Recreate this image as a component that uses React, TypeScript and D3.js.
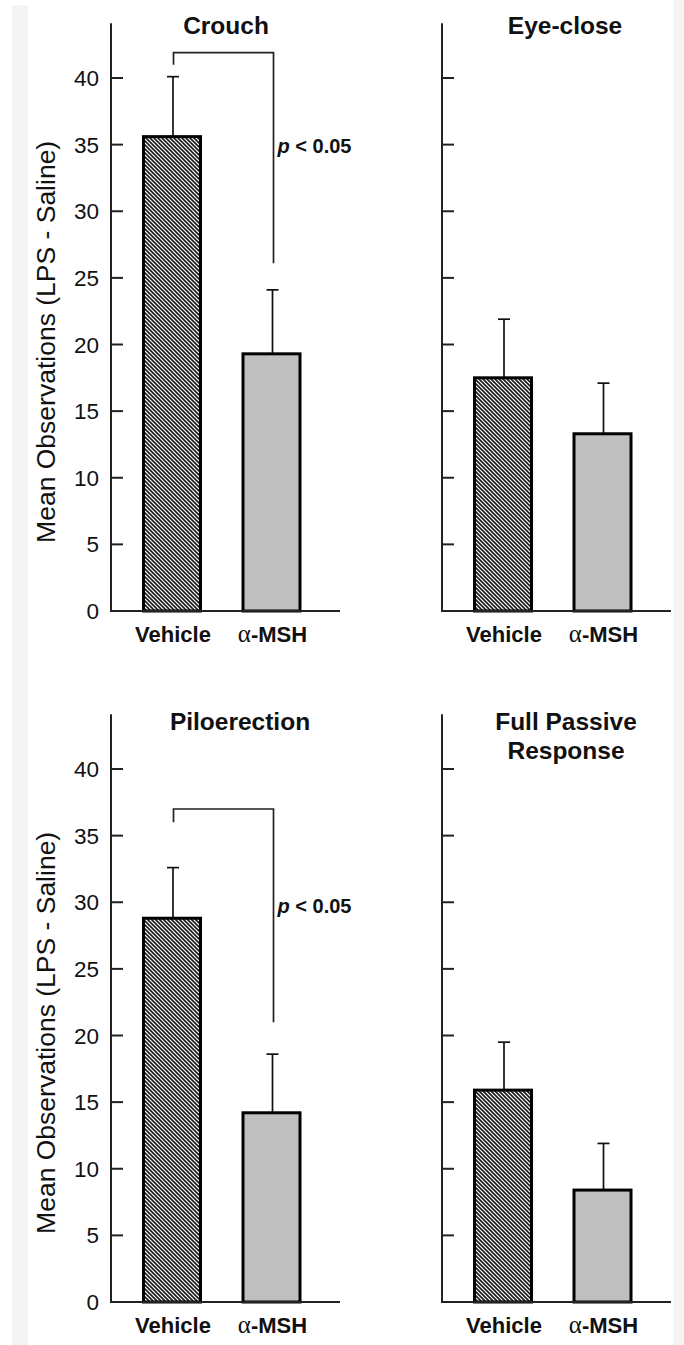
import React, { useEffect, useRef } from "react";
import * as d3 from "d3";

// values
const panelTitles = [["Crouch"], ["Eye-close"], ["Piloerection"], ["Full Passive", "Response"]];
const groups = ["Vehicle", "α-MSH"];
const vehicleMeans = [35.6, 17.5, 28.8, 15.9];
const vehicleSem = [4.5, 4.4, 3.8, 3.6];
const msshMeans = [19.3, 13.3, 14.2, 8.4];
const msshSem = [4.8, 3.8, 4.4, 3.5];
const yTicks = [0, 5, 10, 15, 20, 25, 30, 35, 40];
// significance brackets: [panel, top, left leg end, right leg end, label level]
const sigBrackets = [
  [0, 41.9, 41.0, 26.1, 34.4],
  [2, 37.0, 36.0, 21.0, 29.2],
];
const sigLabel = "< 0.05";

const W = 684;
const H = 1345;
const font = "'Liberation Sans', Arial, Helvetica, sans-serif";

// layout of the four panels
const layout = [
  { x0: 111, base: 611, top40: 78, titleDx: 115, titleY: 34, labels: true },
  { x0: 442, base: 611, top40: 78, titleDx: 123, titleY: 34, labels: false },
  { x0: 111, base: 1302, top40: 769, titleDx: 129, titleY: 730, labels: true },
  { x0: 442, base: 1302, top40: 769, titleDx: 124, titleY: 730, labels: false },
];

const App = () => {
  const svgRef = useRef(null);

  useEffect(() => {
    const svg = d3.select(svgRef.current);
    svg.selectAll("*").remove();

    const defs = svg.append("defs");
    const hatch = defs
      .append("pattern")
      .attr("id", "hatch")
      .attr("patternUnits", "userSpaceOnUse")
      .attr("width", 4)
      .attr("height", 4);
    hatch.append("rect").attr("width", 4).attr("height", 4).attr("fill", "#fff");
    hatch
      .append("path")
      .attr("d", "M-1,-1L5,5M-1,3L1,5M3,-1L5,1")
      .attr("stroke", "#1a1a1a")
      .attr("stroke-width", 1.6);

    // faint grey strips at the page edges
    svg.append("rect").attr("x", 12).attr("y", 5).attr("width", 16).attr("height", H).attr("fill", "#f4f4f4");
    svg.append("rect").attr("x", 673).attr("y", 0).attr("width", 11).attr("height", H).attr("fill", "#f4f4f4");

    layout.forEach((p, i) => {
      const y = d3.scaleLinear().domain([0, 40]).range([p.base, p.top40]);
      const x = d3.scalePoint().domain(groups).range([p.x0 + 61, p.x0 + 160.5]);
      const barW = 57;
      const g = svg.append("g");

      const bars = [
        { key: groups[0], mean: vehicleMeans[i], sem: vehicleSem[i], fill: "url(#hatch)" },
        { key: groups[1], mean: msshMeans[i], sem: msshSem[i], fill: "#bfbfbf" },
      ];

      // error bars (upper only)
      bars.forEach((b) => {
        const cx = x(b.key) + 1;
        g.append("line")
          .attr("x1", cx).attr("x2", cx)
          .attr("y1", y(b.mean)).attr("y2", y(b.mean + b.sem))
          .attr("stroke", "#111").attr("stroke-width", 1.7);
        g.append("line")
          .attr("x1", cx - 6).attr("x2", cx + 6)
          .attr("y1", y(b.mean + b.sem)).attr("y2", y(b.mean + b.sem))
          .attr("stroke", "#111").attr("stroke-width", 1.7);
      });

      g.selectAll("rect.bar")
        .data(bars)
        .enter()
        .append("rect")
        .attr("class", "bar")
        .attr("x", (d) => x(d.key) - barW / 2)
        .attr("y", (d) => y(d.mean))
        .attr("width", barW)
        .attr("height", (d) => y(0) - y(d.mean))
        .attr("fill", (d) => d.fill)
        .attr("stroke", "#000")
        .attr("stroke-width", 3);

      // y axis line + ticks pointing inward
      g.append("line")
        .attr("x1", p.x0).attr("x2", p.x0)
        .attr("y1", y(44.1)).attr("y2", y(0))
        .attr("stroke", "#222").attr("stroke-width", 2);
      g.selectAll("line.tick")
        .data(yTicks.filter((t) => t > 0))
        .enter()
        .append("line")
        .attr("class", "tick")
        .attr("x1", p.x0).attr("x2", p.x0 + 12)
        .attr("y1", (d) => y(d)).attr("y2", (d) => y(d))
        .attr("stroke", "#222").attr("stroke-width", 2);

      // x baseline
      g.append("line")
        .attr("x1", p.x0 - 1).attr("x2", p.x0 + 229)
        .attr("y1", y(0)).attr("y2", y(0))
        .attr("stroke", "#222").attr("stroke-width", 2);

      if (p.labels) {
        g.selectAll("text.tl")
          .data(yTicks)
          .enter()
          .append("text")
          .attr("class", "tl")
          .attr("x", p.x0 - 12)
          .attr("y", (d) => y(d))
          .attr("dy", "0.36em")
          .attr("text-anchor", "end")
          .attr("font-family", font)
          .attr("font-size", 22.5)
          .attr("fill", "#111")
          .text((d) => d);

        g.append("text")
          .attr("transform", `translate(55,${(y(0) + y(44)) / 2 + 24}) rotate(-90)`)
          .attr("text-anchor", "middle")
          .attr("font-family", font)
          .attr("font-size", 26.5)
          .attr("fill", "#111")
          .text("Mean Observations (LPS - Saline)");
      }

      // category labels
      groups.forEach((name) => {
        const t = g.append("text")
          .attr("x", x(name) + 1)
          .attr("y", y(0) + 31)
          .attr("text-anchor", "middle")
          .attr("font-family", font)
          .attr("font-size", 22)
          .attr("font-weight", "bold")
          .attr("fill", "#111");
        if (name.startsWith("α")) {
          t.append("tspan")
            .attr("font-family", "'Liberation Serif', 'Times New Roman', serif")
            .attr("font-weight", "normal")
            .attr("font-size", 25)
            .text("α");
          t.append("tspan").text(name.slice(1));
        } else {
          t.text(name);
        }
      });

      // panel title
      panelTitles[i].forEach((line, k) => {
        g.append("text")
          .attr("x", p.x0 + p.titleDx)
          .attr("y", p.titleY + k * 29)
          .attr("text-anchor", "middle")
          .attr("font-family", font)
          .attr("font-size", 24.5)
          .attr("font-weight", "bold")
          .attr("fill", "#111")
          .text(line);
      });

      // significance bracket
      sigBrackets
        .filter((s) => s[0] === i)
        .forEach((s) => {
          const lx = x(groups[0]) + 1.5;
          const rx = x(groups[1]) + 2;
          g.append("path")
            .attr("d", `M${lx},${y(s[2])}V${y(s[1])}H${rx}V${y(s[3])}`)
            .attr("fill", "none")
            .attr("stroke", "#222")
            .attr("stroke-width", 1.7);
          const t = g.append("text")
            .attr("x", rx + 4)
            .attr("y", y(s[4]))
            .attr("font-family", font)
            .attr("font-size", 20)
            .attr("font-weight", "bold")
            .attr("fill", "#111");
          t.append("tspan").attr("font-style", "italic").text("p");
          t.append("tspan").text(" " + sigLabel);
        });
    });
  }, []);

  return (
    <svg
      ref={svgRef}
      width={W}
      height={H}
      style={{ position: "absolute", left: 0, top: 0, background: "#fff", display: "block" }}
    />
  );
};

export default App;
